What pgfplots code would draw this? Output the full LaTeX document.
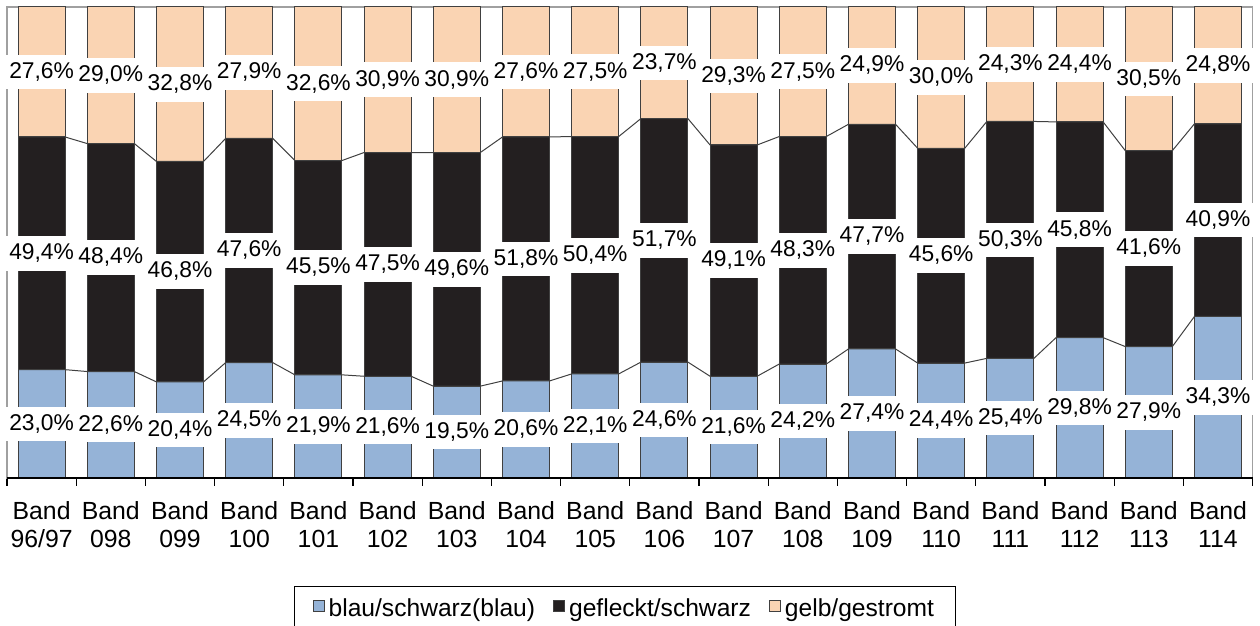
\documentclass[border=0pt]{standalone}
\usepackage{pgfplots}
\pgfplotsset{compat=1.18}
\usepackage{pgfplotstable}
\usepackage{fontspec}
\setmainfont{Liberation Sans}
\definecolor{cblue}{HTML}{95B3D7}
\definecolor{cblack}{HTML}{231F20}
\definecolor{cpeach}{HTML}{FAD4B3}
\definecolor{cedge}{HTML}{404040}
\definecolor{cframe}{HTML}{A0A0A0}
\pgfplotstableread{
band blue black gelb
96/97 23.0 49.4 27.6
098 22.6 48.4 29.0
099 20.4 46.8 32.8
100 24.5 47.6 27.9
101 21.9 45.5 32.6
102 21.6 47.5 30.9
103 19.5 49.6 30.9
104 20.6 51.8 27.6
105 22.1 50.4 27.5
106 24.6 51.7 23.7
107 21.6 49.1 29.3
108 24.2 48.3 27.5
109 27.4 47.7 24.9
110 24.4 45.6 30.0
111 25.4 50.3 24.3
112 29.8 45.8 24.4
113 27.9 41.6 30.5
114 34.3 40.9 24.8
}\data
\pgfplotsset{
  /pgf/number format/assume math mode=true,
  common/.style={
    at={(3.5pt,74pt)}, anchor=south west,
    scale only axis, width=622.8pt, height=235.5pt,
    xmin=-0.5, xmax=17.5, ymin=0, ymax=100,
  },
  sq legend/.style={legend image code/.code={\draw[##1,draw=cedge,line width=0.5pt] (0pt,-1.5pt) rectangle (5.5pt,4pt);}},
  lbl/.style={draw=none, no marks, point meta=explicit,
    nodes near coords={\pgfmathprintnumber[fixed,fixed zerofill,precision=1,use comma]{\pgfplotspointmeta}\%},
    every node near coord/.style={font=\fontsize{11.4}{11.4}\selectfont, fill=white, draw=none, text=black,
    inner xsep=1.5pt, inner ysep=3.5pt, text height=8.3pt, text depth=2pt, anchor=center}},
}
\begin{document}
\begin{tikzpicture}
\useasboundingbox (0,0) rectangle (630pt,313pt);
\begin{axis}[common,
  ybar stacked, bar width=0.68,
  axis line style={draw=cframe, line width=0.6pt},
  ytick=\empty,
  xtick={0,...,17},
  xticklabels={{Band\\96/97},{Band\\098},{Band\\099},{Band\\100},{Band\\101},{Band\\102},{Band\\103},{Band\\104},{Band\\105},{Band\\106},{Band\\107},{Band\\108},{Band\\109},{Band\\110},{Band\\111},{Band\\112},{Band\\113},{Band\\114}},
  major tick length=0pt,
  minor xtick={-0.5,0.5,1.5,2.5,3.5,4.5,5.5,6.5,7.5,8.5,9.5,10.5,11.5,12.5,13.5,14.5,15.5,16.5,17.5},
  minor tick length=4pt,
  xtick align=outside,
  xtick pos=left,
  minor x tick style={black, line width=0.6pt},
  x tick label style={align=center, font=\fontsize{12.4}{14}\selectfont, yshift=-8.4pt},
  legend columns=3,
  legend style={at={(0.4964,-0.2293)}, anchor=north, draw=black, line width=0.5pt,
    font=\fontsize{12.3}{14}\selectfont, inner xsep=9pt, inner ysep=4pt,
    /tikz/every even column/.append style={column sep=7pt}},
]
\addplot[fill=cblue, draw=cedge, line width=0.5pt, sq legend] table[x expr=\coordindex, y=blue]{\data};
\addlegendentry{blau/schwarz(blau)}
\addplot[fill=cblack, draw=cedge, line width=0.5pt, sq legend] table[x expr=\coordindex, y=black]{\data};
\addlegendentry{gefleckt/schwarz}
\addplot[fill=cpeach, draw=cedge, line width=0.5pt, sq legend] table[x expr=\coordindex, y=gelb]{\data};
\addlegendentry{gelb/gestromt}
\end{axis}
\begin{axis}[common,
  axis x line*=bottom, axis y line=none,
  x axis line style={black, line width=0.8pt},
  xtick=\empty, ytick=\empty, clip=false,
]
\addplot[cedge, line width=0.5pt, sharp plot, no marks] coordinates {
(-0.34,23.0)(0.34,23.0)(0.66,22.6)(1.34,22.6)(1.66,20.4)(2.34,20.4)(2.66,24.5)(3.34,24.5)
(3.66,21.9)(4.34,21.9)(4.66,21.6)(5.34,21.6)(5.66,19.5)(6.34,19.5)(6.66,20.6)(7.34,20.6)
(7.66,22.1)(8.34,22.1)(8.66,24.6)(9.34,24.6)(9.66,21.6)(10.34,21.6)(10.66,24.2)(11.34,24.2)
(11.66,27.4)(12.34,27.4)(12.66,24.4)(13.34,24.4)(13.66,25.4)(14.34,25.4)(14.66,29.8)(15.34,29.8)
(15.66,27.9)(16.34,27.9)(16.66,34.3)(17.34,34.3)};
\addplot[cedge, line width=0.5pt, sharp plot, no marks] coordinates {
(-0.34,72.4)(0.34,72.4)(0.66,71.0)(1.34,71.0)(1.66,67.2)(2.34,67.2)(2.66,72.1)(3.34,72.1)
(3.66,67.4)(4.34,67.4)(4.66,69.1)(5.34,69.1)(5.66,69.1)(6.34,69.1)(6.66,72.4)(7.34,72.4)
(7.66,72.5)(8.34,72.5)(8.66,76.3)(9.34,76.3)(9.66,70.7)(10.34,70.7)(10.66,72.5)(11.34,72.5)
(11.66,75.1)(12.34,75.1)(12.66,70.0)(13.34,70.0)(13.66,75.7)(14.34,75.7)(14.66,75.6)(15.34,75.6)
(15.66,69.5)(16.34,69.5)(16.66,75.2)(17.34,75.2)};
\addplot[lbl] table[x expr=\coordindex, y expr=\thisrow{blue}/2, meta=blue]{\data};
\addplot[lbl] table[x expr=\coordindex, y expr=\thisrow{blue}+\thisrow{black}/2, meta=black]{\data};
\addplot[lbl] table[x expr=\coordindex, y expr=\thisrow{blue}+\thisrow{black}+\thisrow{gelb}/2, meta=gelb]{\data};
\end{axis}
\end{tikzpicture}
\end{document}
